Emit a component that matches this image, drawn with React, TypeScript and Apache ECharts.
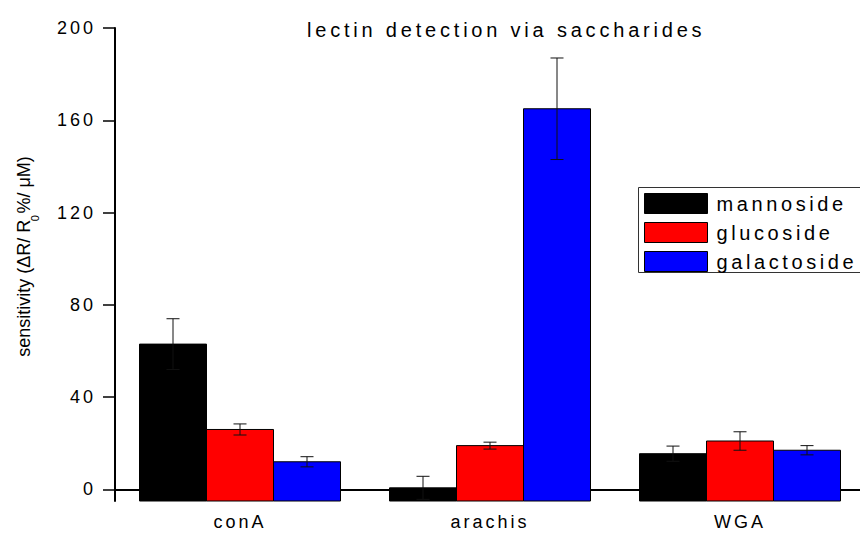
import React, { useEffect, useRef } from 'react';
import * as echarts from 'echarts';

const title = 'lectin detection via saccharides';
const categories = ['conA', 'arachis', 'WGA'];
const seriesNames = ['mannoside', 'glucoside', 'galactoside'];
const mannoside = [63, 0.7, 15.5];
const glucoside = [26, 19, 21];
const galactoside = [12, 165, 17];
const mannosideErr = [11, 5, 3.3];
const glucosideErr = [2.4, 1.5, 4];
const galactosideErr = [2.2, 22, 2];
const yTicks = [0, 40, 80, 120, 160, 200];
const yMin = -5;
const yMax = 200;

const colors = ['#000000', '#ff0000', '#0000ff'];
const FONT = '"Liberation Sans", Arial, sans-serif';
const BAR_W = 67;
const CAP = 6.5;

const values = [mannoside, glucoside, galactoside];
const errors = [mannosideErr, glucosideErr, galactosideErr];

function barRender(k: number) {
  return (params: any, api: any) => {
    const cat = api.value(0);
    const val = api.value(1);
    const top = api.coord([cat, val]);
    const cs = params.coordSys;
    const bottom = cs.y + cs.height;
    const cx = top[0] + (k - 1) * BAR_W;
    return {
      type: 'rect',
      shape: { x: cx - BAR_W / 2, y: top[1], width: BAR_W, height: bottom - top[1] },
      style: { fill: api.visual('color'), stroke: '#000', lineWidth: 1 },
    };
  };
}

function errRender(k: number) {
  return (params: any, api: any) => {
    const cat = api.value(0);
    const val = api.value(1);
    const err = api.value(2);
    const hi = api.coord([cat, val + err]);
    const lo = api.coord([cat, val - err]);
    const x = hi[0] + (k - 1) * BAR_W;
    const st = { stroke: '#111', lineWidth: 1 };
    return {
      type: 'group',
      children: [
        { type: 'line', shape: { x1: x, y1: hi[1], x2: x, y2: lo[1] }, style: st },
        { type: 'line', shape: { x1: x - CAP, y1: hi[1], x2: x + CAP, y2: hi[1] }, style: st },
        { type: 'line', shape: { x1: x - CAP, y1: lo[1], x2: x + CAP, y2: lo[1] }, style: st },
      ],
    };
  };
}

function applySpacing(root: HTMLElement) {
  const tickStr = yTicks.map(String);
  root.querySelectorAll('text').forEach((el) => {
    const t = (el.textContent || '').trim();
    let s = 0;
    if (t === title) s = 3.8;
    else if (seriesNames.includes(t)) s = 3.6;
    else if (categories.includes(t) || tickStr.includes(t)) s = 3;
    if (s) (el as any).style.letterSpacing = s + 'px';
  });
}

export default function App() {
  const ref = useRef<HTMLDivElement>(null);
  useEffect(() => {
    if (!ref.current) return;
    const chart = echarts.init(ref.current, undefined, { renderer: 'svg' });
    const series: any[] = [];
    seriesNames.forEach((name, k) => {
      series.push({
        name,
        type: 'custom',
        renderItem: barRender(k),
        encode: { x: 0, y: 1 },
        data: values[k].map((v, i) => [i, v]),
        itemStyle: { color: colors[k], borderColor: '#000', borderWidth: 1 },
        z: 2,
      });
    });
    seriesNames.forEach((name, k) => {
      series.push({
        name: name + ' error',
        type: 'custom',
        renderItem: errRender(k),
        encode: { x: 0, y: 1 },
        data: values[k].map((v, i) => [i, v, errors[k][i]]),
        itemStyle: { color: '#111' },
        clip: true,
        z: 3,
      });
    });
    chart.setOption({
      animation: false,
      backgroundColor: '#ffffff',
      title: {
        text: title,
        left: 307,
        top: 20,
        padding: 0,
        textStyle: { fontSize: 20, fontWeight: 'normal', fontFamily: FONT, color: '#000' },
      },
      legend: {
        data: seriesNames.map((n) => ({ name: n, icon: 'rect' })),
        orient: 'vertical',
        left: 644,
        top: 193,
        padding: 0,
        itemWidth: 63,
        itemHeight: 20,
        itemGap: 8,
        selectedMode: false,
        itemStyle: { borderColor: '#000', borderWidth: 1 },
        textStyle: { fontSize: 20, fontFamily: FONT, color: '#000', padding: [0, 0, 0, 4] },
      },
      graphic: [
        {
          type: 'rect',
          z: 0,
          shape: { x: 638.5, y: 187.5, width: 260, height: 85 },
          style: { fill: '#fff', stroke: '#333', lineWidth: 1 },
        },
      ],
      grid: { left: 115, top: 28, width: 750, bottom: 32, containLabel: false, outerBoundsMode: 'none' },
      xAxis: {
        type: 'category',
        data: categories,
        axisLine: { show: true, lineStyle: { color: '#000', width: 2 } },
        axisTick: { show: true, alignWithLabel: true, length: 8, lineStyle: { color: '#000', width: 2 } },
        axisLabel: { fontSize: 18, lineHeight: 14, fontFamily: FONT, color: '#000', margin: 14 },
        splitLine: { show: false },
      },
      yAxis: {
        type: 'value',
        min: yMin,
        max: yMax,
        name: '{a|sensitivity (ΔR/ R}{b|0}{a|%/ μM)}',
        nameLocation: 'middle',
        nameGap: 82,
        nameMoveOverlap: false,
        nameTextStyle: {
          fontFamily: FONT,
          color: '#000',
          padding: [0, 0, 0, 16],
          rich: {
            a: { fontSize: 18, fontFamily: FONT, color: '#000', lineHeight: 18, verticalAlign: 'top' },
            b: { fontSize: 11, fontFamily: FONT, color: '#000', lineHeight: 11, verticalAlign: 'top', padding: [14, 0, 0, 0] },
          },
        },
        axisLine: { show: true, lineStyle: { color: '#000', width: 2 } },
        axisTick: { show: true, length: 12, customValues: yTicks, lineStyle: { color: '#000', width: 1.5 } },
        axisLabel: { fontSize: 18, fontFamily: FONT, color: '#000', margin: 19, customValues: yTicks },
        splitLine: { show: false },
      },
      series,
    });
    applySpacing(ref.current);
    const el = ref.current;
    chart.on('finished', () => applySpacing(el));
    return () => {
      chart.dispose();
    };
  }, []);
  return <div ref={ref} style={{ width: 860, height: 533, position: 'absolute', left: 0, top: 0 }} />;
}
